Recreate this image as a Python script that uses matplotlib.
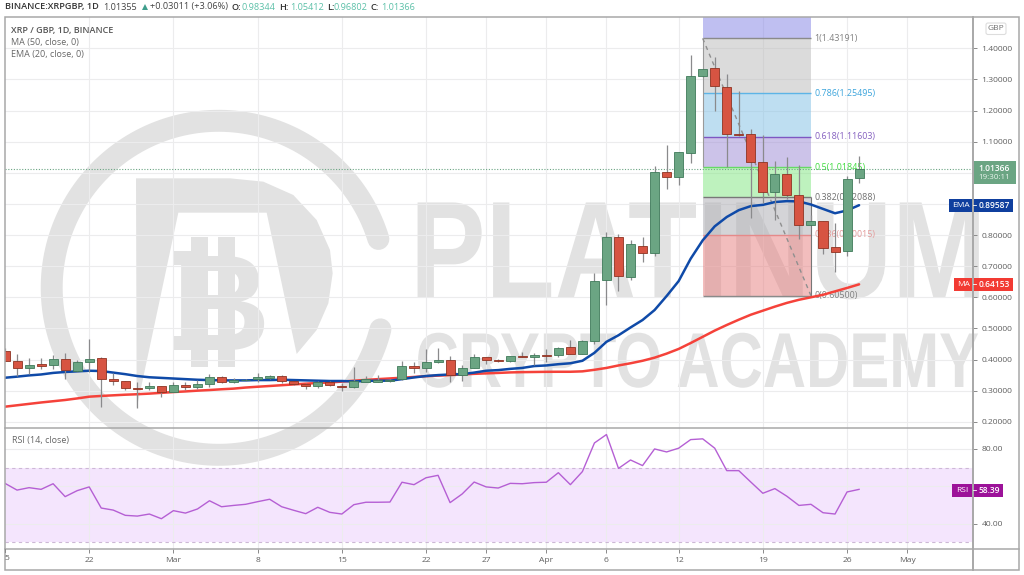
import numpy as np
import matplotlib
matplotlib.use("Agg")
import matplotlib.pyplot as plt
import matplotlib.patheffects as pe
from matplotlib.transforms import Affine2D
from matplotlib.patches import Rectangle, Polygon, FancyBboxPatch

plt.rcParams['font.family'] = ['Open Sans', 'DejaVu Sans']

# daily candles, 15 Feb to 27 Apr
opens = [0.4280,0.3949,0.3725,0.3853,0.3810,0.4013,0.3639,0.3906,0.4045,0.3372,0.3297,0.3094,0.3073,0.3137,0.2966,0.3190,0.3105,0.3212,
         0.3447,0.3287,0.3329,0.3361,0.3404,0.3468,0.3297,0.3222,0.3137,0.3287,0.3158,0.3126,0.3286,0.3286,0.3297,0.3361,0.3799,0.3735,
         0.3917,0.3981,0.3489,0.3714,0.4066,0.3970,0.3938,0.4109,0.4066,0.4152,0.4130,0.4387,0.4184,0.4611,0.6556,0.7934,0.6662,0.7656,
         0.7421,1.0028,0.9857,1.0648,1.3105,1.3361,1.2763,1.1246,1.1246,1.0359,0.9376,0.9964,0.9291,0.8329,0.8458,0.7603,0.7485,0.98344]
highs = [0.4355,0.4163,0.4034,0.4034,0.4141,0.4195,0.3981,0.4675,0.4066,0.3554,0.3297,0.3287,0.3287,0.3137,0.3287,0.3287,0.3340,0.3532,
         0.3468,0.3393,0.3372,0.3554,0.3500,0.3500,0.3318,0.3244,0.3297,0.3308,0.3233,0.3767,0.3468,0.3500,0.3361,0.3959,0.3927,0.4323,
         0.4355,0.4109,0.3821,0.4173,0.4088,0.4024,0.4109,0.4237,0.4194,0.4323,0.4408,0.4643,0.4643,0.6780,0.8094,0.8019,0.7827,0.7934,
         1.0230,1.0904,1.0669,1.3778,1.3350,1.3725,1.3169,1.2635,1.1406,1.1225,1.0391,1.0520,1.0263,0.8628,0.8458,0.8383,0.9889,1.05412]
lows = [0.3960,0.3468,0.3532,0.3693,0.3682,0.3361,0.3607,0.3607,0.2485,0.3180,0.3019,0.2432,0.3019,0.2806,0.2966,0.3028,0.3041,0.3105,
        0.3233,0.3233,0.3308,0.3287,0.3361,0.3254,0.3190,0.3062,0.3084,0.3147,0.2998,0.3073,0.3265,0.3265,0.3276,0.3340,0.3553,0.3607,
        0.3895,0.3286,0.3308,0.3714,0.3853,0.3906,0.3917,0.4066,0.3821,0.3927,0.4066,0.4173,0.4162,0.4494,0.5744,0.6203,0.6545,0.7133,
        0.7314,0.9483,0.9622,1.0306,1.3085,1.1970,1.0200,1.1190,0.8554,0.9024,0.8490,0.9163,0.7881,0.8308,0.7400,0.6812,0.7315,0.96802]
closes = [0.3960,0.3735,0.3831,0.3799,0.4013,0.3660,0.3906,0.4013,0.3372,0.3297,0.3084,0.3062,0.3137,0.2966,0.3180,0.3105,0.3212,0.3447,
          0.3287,0.3351,0.3351,0.3425,0.3468,0.3297,0.3212,0.3137,0.3276,0.3180,0.3126,0.3297,0.3361,0.3340,0.3340,0.3788,0.3724,0.3927,
          0.3981,0.3489,0.3714,0.4066,0.3970,0.3938,0.4109,0.4088,0.4130,0.4109,0.4376,0.4184,0.4611,0.6534,0.7934,0.6694,0.7699,0.7421,
          1.0017,0.9857,1.0669,1.3105,1.3330,1.2795,1.1246,1.1214,1.0359,0.9376,0.9964,0.9280,0.8329,0.8458,0.7592,0.7453,0.9814,1.01366]

ema20 = [0.3415,0.345,0.349,0.352,0.357,0.360,0.362,0.364,0.363,0.358,0.353,0.347,0.343,0.341,0.339,0.337,0.335,0.334,
         0.333,0.333,0.333,0.334,0.334,0.335,0.334,0.333,0.332,0.331,0.331,0.3297,0.331,0.332,0.332,0.337,0.3425,0.347,
         0.350,0.352,0.353,0.358,0.364,0.366,0.370,0.373,0.379,0.381,0.385,0.388,0.396,0.4216,0.457,0.478,0.503,0.527,
         0.559,0.604,0.652,0.724,0.783,0.828,0.858,0.880,0.893,0.897,0.906,0.909,0.908,0.898,0.884,0.870,0.879,0.89587]
ma50 = [0.2485,0.2530,0.2575,0.2620,0.2660,0.2700,0.2750,0.2806,0.2830,0.2850,0.2870,0.2885,0.2905,0.2930,0.2955,0.2975,0.3000,0.3020,
        0.3045,0.3065,0.3100,0.3126,0.3150,0.3175,0.3200,0.3225,0.3245,0.3265,0.3290,0.3320,0.3345,0.3370,0.3393,0.3415,0.3440,0.3465,
        0.3483,0.3500,0.3520,0.3540,0.3555,0.3570,0.3586,0.3595,0.3600,0.3605,0.3607,0.3607,0.3620,0.3670,0.3730,0.3810,0.3880,0.3960,
        0.4060,0.4190,0.4340,0.4530,0.4730,0.4930,0.5110,0.5280,0.5440,0.5570,0.5700,0.5820,0.5920,0.6000,0.6080,0.6190,0.6300,0.64153]
rsi14 = [61.6,58.0,59.3,58.4,61.4,54.5,57.7,59.7,48.4,47.3,44.5,44.1,45.2,42.7,47.0,45.7,47.9,52.3,
         49.1,49.8,50.4,51.8,53.1,49.1,47.2,45.4,48.8,46.1,45.2,50.2,51.5,51.5,51.6,62.2,60.9,64.6,
         65.9,51.3,55.9,62.3,59.7,59.1,61.6,61.4,62.0,62.2,67.3,60.9,67.9,83.2,87.7,69.6,74.1,71.1,
         80.0,78.4,80.4,85.0,85.4,80.4,68.4,68.4,62.3,56.3,58.8,54.7,49.8,50.4,45.9,45.2,57.0,58.39]

# time axis: day number from 15 Feb
tick_days = [7, 14, 21, 28, 35, 40, 45, 50, 56, 63, 70, 75]
tick_names = ['22', 'Mar', '8', '15', '22', '27', 'Apr', '6', '12', '19', '26', 'May']
price_ticks = [0.2, 0.3, 0.4, 0.5, 0.6, 0.7, 0.8, 0.9, 1.0, 1.1, 1.2, 1.3, 1.4]
rsi_ticks = [40, 60, 80]

# fibonacci retracement
fib_ratio = ['1', '0.786', '0.618', '0.5', '0.382', '0.236', '0']
fib_price = [1.43191, 1.25495, 1.11603, 1.01845, 0.92088, 0.80015, 0.60500]
fib_line = ['#8a8a8a', '#5db4e6', '#7e57c2', '#66d966', '#787878', '#e58a8a', '#8a8a8a']
fib_text = ['#808080', '#3da5dc', '#8560c0', '#3fdc3f', '#707070', '#e29a9a', '#808080']
fib_fill = ['#b9b9b9', '#7fbfe5', '#9b89d5', '#7fe77f', '#ababb1', '#e77d7d']
fib_start, fib_end = 58, 67

up_col, down_col = '#6ba583', '#d75442'
up_edge, down_edge = '#3f7a5a', '#8f3322'
grid_col = '#ececed'
frame_col = '#a8a8a8'
mark_col = '#e2e2e2'
W, H = 1024, 575


class Squeeze(pe.AbstractPathEffect):
    # narrows a text sideways, keeps it a text
    def __init__(self, x_fixed, factor):
        super().__init__()
        self.x_fixed = x_fixed
        self.factor = factor

    def draw_path(self, renderer, gc, tpath, affine, rgbFace=None):
        squeeze = Affine2D().translate(-self.x_fixed, 0).scale(self.factor, 1).translate(self.x_fixed, 0)
        renderer.draw_path(gc, tpath, affine + squeeze, rgbFace)


fig = plt.figure(figsize=(W / 100, H / 100), dpi=100)

# background layer in pixels, holds the watermark
bg = fig.add_axes([0, 0, 1, 1], zorder=0)
bg.set_xlim(0, W)
bg.set_ylim(H, 0)
bg.axis('off')

a = np.radians(np.linspace(17, 345.6, 200))
bg.plot(218.7 + 167 * np.cos(a), 287.8 - 167 * np.sin(a), color=mark_col, lw=15.8, solid_capstyle='round')
d_x = np.array([318, 600, 700, 790, 860, 900, 908, 895, 860, 800, 710, 445, 320])
d_y = np.array([235, 235, 245, 285, 360, 450, 520, 610, 690, 762, 338, 338, 925])
bg.add_patch(Polygon(np.c_[30 + d_x / 3, 100 + d_y / 3], closed=True, fc=mark_col, ec='none'))
bg.text(172, 350, 'B', fontsize=98, family='Liberation Sans', weight='bold', color=mark_col, va='baseline', ha='left')
for sx in (191, 218):
    bg.add_patch(Rectangle((sx, 237), 17, 130, fc=mark_col, ec='none'))
bg.add_patch(Rectangle((173, 251), 30, 14, fc=mark_col, ec='none'))
bg.add_patch(Rectangle((173, 336), 30, 14, fc=mark_col, ec='none'))
big = bg.text(986, 298, 'PLATINUM', fontsize=100, family='Liberation Sans', weight='bold', color=mark_col,
              va='baseline', ha='right')
big.set_path_effects([Squeeze(986, 0.815)])
small = bg.text(979, 387, 'CRYPTO ACADEMY', fontsize=56, family='Liberation Sans', weight='bold', color=mark_col,
                va='baseline', ha='right')
small.set_path_effects([Squeeze(979, 0.77)])

# panes
ax = fig.add_axes([5 / W, (H - 428) / H, 968 / W, 411 / H], zorder=1)
rs = fig.add_axes([5 / W, (H - 549) / H, 968 / W, 121 / H], zorder=1, sharex=ax)
for pane in (ax, rs):
    pane.patch.set_visible(False)
    for s in pane.spines.values():
        s.set_visible(False)
    pane.set_axisbelow(True)
    pane.grid(True, color=grid_col, lw=0.8)

days = np.arange(len(closes))
ax.set_xlim(0, 80.47)
ax.set_ylim(0.18, 1.5006)
rs.set_ylim(26.5, 91.2)

# fib zones
ax.fill_between([fib_start, fib_end], 1.43191, 1.5006, color='#8181e5', alpha=0.5, lw=0, zorder=1.2)
for i in range(len(fib_fill)):
    ax.fill_between([fib_start, fib_end], fib_price[i + 1], fib_price[i], color=fib_fill[i], alpha=0.5, lw=0, zorder=1.2)
for i in range(len(fib_price)):
    ax.hlines(fib_price[i], fib_start, fib_end, color=fib_line[i], lw=1.0, zorder=1.5)
    ax.text(fib_end + 0.3, fib_price[i], fib_ratio[i] + '(%.5f)' % fib_price[i], color=fib_text[i],
            fontsize=6.4, va='center', ha='left', zorder=1.6)
ax.vlines(fib_start, 1.01845, 1.43191, color='#9a9a9a', lw=0.8, zorder=1.5)
ax.vlines(fib_end, 0.605, 0.92088, color='#777777', lw=0.8, zorder=1.5)
ax.plot([fib_start, fib_end], [1.43191, 0.605], color='#8f8f8f', lw=1, ls=(0, (3, 3)), zorder=1.7)

# last price line
ax.axhline(closes[-1], color=up_col, lw=0.8, ls=(0, (1, 1.5)), zorder=1.8)

# moving averages under the candles
ax.plot(days, ma50, color='#f5423a', lw=1.8, zorder=2, solid_capstyle='round')
ax.plot(days, ema20, color='#0f4aa8', lw=1.8, zorder=2, solid_capstyle='round')

# candles
o = np.array(opens)
c = np.array(closes)
rising = c >= o
ax.vlines(days, lows, highs, color='#8a8a8c', lw=0.9, zorder=3)
ax.bar(days[rising], (c - o)[rising], bottom=o[rising], width=0.75, color=up_col, edgecolor=up_edge, lw=0.6, zorder=4)
ax.bar(days[~rising], (o - c)[~rising], bottom=c[~rising], width=0.75, color=down_col, edgecolor=down_edge, lw=0.6, zorder=4)

# rsi pane
rs.axhspan(30, 69.6, color='#f4e5fd', lw=0, zorder=0.5)
rs.axhline(69.6, color='#cdb8d6', lw=0.8, ls=(0, (3, 3)), zorder=1)
rs.axhline(30, color='#cdb8d6', lw=0.8, ls=(0, (3, 3)), zorder=1)
rs.set_yticks(rsi_ticks)
rs.plot(days, rsi14, color='#b55fd4', lw=1.0, zorder=3)

ax.yaxis.tick_right()
rs.yaxis.tick_right()
ax.set_yticks(price_ticks)
ax.set_yticklabels(['%.5f' % v for v in price_ticks], fontsize=6.1, color='#606060')
rs.set_yticklabels(['40.00', '', '80.00'], fontsize=6.1, color='#606060')
ax.tick_params(axis='y', length=3, width=0.7, color='#8a8a8a', pad=3)
rs.tick_params(axis='y', length=3, width=0.7, color='#8a8a8a', pad=3)
rs.yaxis.get_major_ticks()[1].tick2line.set_visible(False)
ax.tick_params(axis='x', length=0, labelbottom=False)
rs.set_xticks(tick_days)
rs.set_xticklabels(tick_names, fontsize=6.1, color='#606060')
rs.tick_params(axis='x', length=3, width=0.7, color='#8a8a8a', pad=3)

# top layer in pixels: frame, header, value tags
top = fig.add_axes([0, 0, 1, 1], zorder=5)
top.set_xlim(0, W)
top.set_ylim(H, 0)
top.axis('off')
top.add_patch(Rectangle((5, 17), 1014, 553, fc='none', ec=frame_col, lw=1.1))
top.plot([5, 973], [428, 428], color=frame_col, lw=1.1)
top.plot([5, 1019], [549, 549], color=frame_col, lw=1.1)
top.plot([973, 973], [17, 570], color=frame_col, lw=1.4)
top.text(5, 7, 'BINANCE:XRPGBP, 1D', fontsize=6.6, weight='semibold', color='#333333', va='center')
top.text(103, 7, '1.01355', fontsize=6.6, color='#444444', va='center')
top.add_patch(Polygon([[142, 10], [148, 10], [145, 4]], closed=True, fc='#3f9e8c', ec='none'))
top.text(150, 7, '+0.03011 (+3.06%)', fontsize=6.6, color='#444444', va='center')
for name, nx, val, vx in (('O:', 231.5, '0.98344', 241.7), ('H:', 279, '1.05412', 290),
                          ('L:', 327, '0.96802', 334), ('C:', 370.7, '1.01366', 381)):
    top.text(nx, 7, name, fontsize=6.6, weight='semibold', color='#333333', va='center')
    top.text(vx, 7, val, fontsize=6.6, color='#5cc0a8', va='center')
top.text(11, 30, 'XRP / GBP, 1D, BINANCE', fontsize=6.5, weight='semibold', color='#555555', va='center')
top.text(11, 42.5, 'MA (50, close, 0)', fontsize=6.5, color='#666666', va='center')
top.text(11, 55, 'EMA (20, close, 0)', fontsize=6.5, color='#666666', va='center')
top.text(11.5, 441, 'RSI (14, close)', fontsize=6.5, color='#666666', va='center')


def pane_y(pane, value):
    # pixel row of a value in a pane
    return H - pane.transData.transform((0, value))[1]


def tag(y, x0, x1, x_mid, name, value, col):
    top.add_patch(Rectangle((x0, y - 6.5), x1 - x0, 13, fc=col, ec='none'))
    top.text((x0 + x_mid) / 2, y, name, fontsize=6, color='white', ha='center', va='center')
    top.plot([x_mid, x_mid + 3], [y, y], color='white', lw=0.6)
    top.text((x_mid + x1) / 2 + 1, y, value, fontsize=6, weight='semibold', color='white', ha='center', va='center')


tag(pane_y(ax, ema20[-1]), 949, 1012.7, 973, 'EMA', '%.5f' % ema20[-1], '#0f3f9e')
tag(pane_y(ax, ma50[-1]), 953.7, 1012.7, 973, 'MA', '%.5f' % ma50[-1], '#f23a33')
tag(pane_y(rs, rsi14[-1]) + 1, 952, 1003, 973, 'RSI', '%.2f' % rsi14[-1], '#9c1299')

py = pane_y(ax, closes[-1])
top.add_patch(Rectangle((973, py - 7.5), 43, 22.5, fc=up_col, ec='none'))
top.text(994, py - 0.5, '%.5f' % closes[-1], fontsize=6, weight='semibold', color='white', ha='center', va='center')
top.text(994, py + 9, '19:30:11', fontsize=5.8, color='#e8f3ec', ha='center', va='center')

top.add_patch(FancyBboxPatch((987, 24), 18, 9.5, boxstyle='round,pad=1,rounding_size=2', fc='white', ec='#dddddd', lw=0.8))
top.text(996, 28.8, 'GBP', fontsize=6, color='#707070', ha='center', va='center')
top.text(7, 559, '5', fontsize=6.1, color='#606060', ha='center', va='center')
top.plot([5, 5], [549, 552], color='#8a8a8a', lw=0.7)

fig.savefig('out.png', dpi=100, facecolor='white')
